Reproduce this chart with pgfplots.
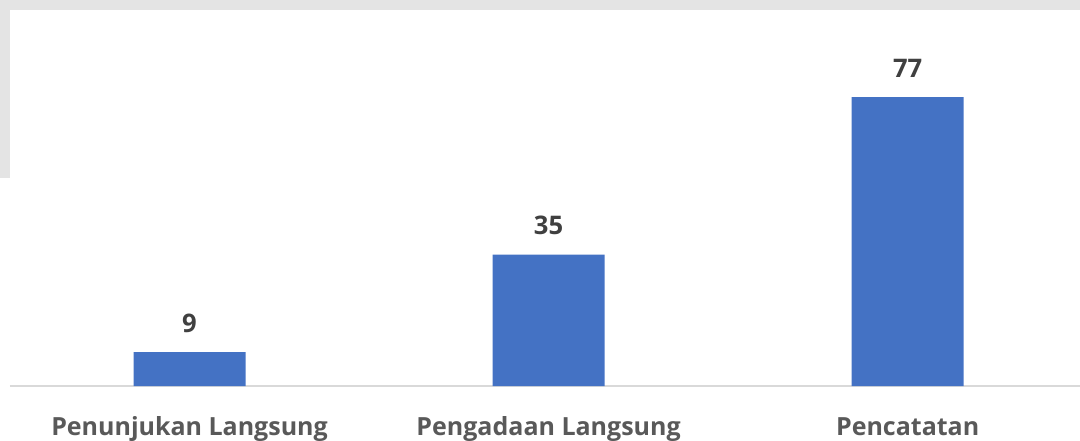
\documentclass[border=0pt]{standalone}
\usepackage{fontspec}
\setmainfont{Open Sans}
\usepackage{pgfplots}
\pgfplotsset{compat=1.18}
\definecolor{barblue}{HTML}{4472C4}
\definecolor{axisgrey}{HTML}{D9D9D9}
\definecolor{valgrey}{HTML}{404040}
\definecolor{catgrey}{HTML}{595959}
\definecolor{framegrey}{HTML}{E4E4E4}
\begin{document}
\begin{tikzpicture}
\fill[framegrey] (0,215pt) rectangle (540pt,220pt);
\fill[framegrey] (0,131pt) rectangle (5pt,220pt);
\begin{axis}[
  at={(5pt,27pt)}, anchor=south west,
  scale only axis, width=535pt, height=188pt,
  xmin=-0.5, xmax=2.48, ymin=0, ymax=100.2,
  axis x line=bottom, axis y line=none,
  axis line style={draw=axisgrey, line width=1pt, -},
  xtick=data, xticklabels={Penunjukan Langsung,Pengadaan Langsung,Pencatatan},
  major tick length=0pt,
  xticklabel style={anchor=base, yshift=-24.5pt, font=\bfseries\fontsize{12.5}{15}\selectfont, text=catgrey},
  ytick=\empty,
  /pgf/number format/assume math mode=true,
  nodes near coords,
  nodes near coords style={anchor=base, yshift=10pt, font=\bfseries\fontsize{12.8}{15}\selectfont, text=valgrey},
  clip=false,
]
\addplot[ybar, bar width=56pt, fill=barblue, draw=none] coordinates {(0,9) (1,35) (2,77)};
\end{axis}
\pgfresetboundingbox
\path (0,0) rectangle (540pt,220pt);
\end{tikzpicture}
\end{document}
